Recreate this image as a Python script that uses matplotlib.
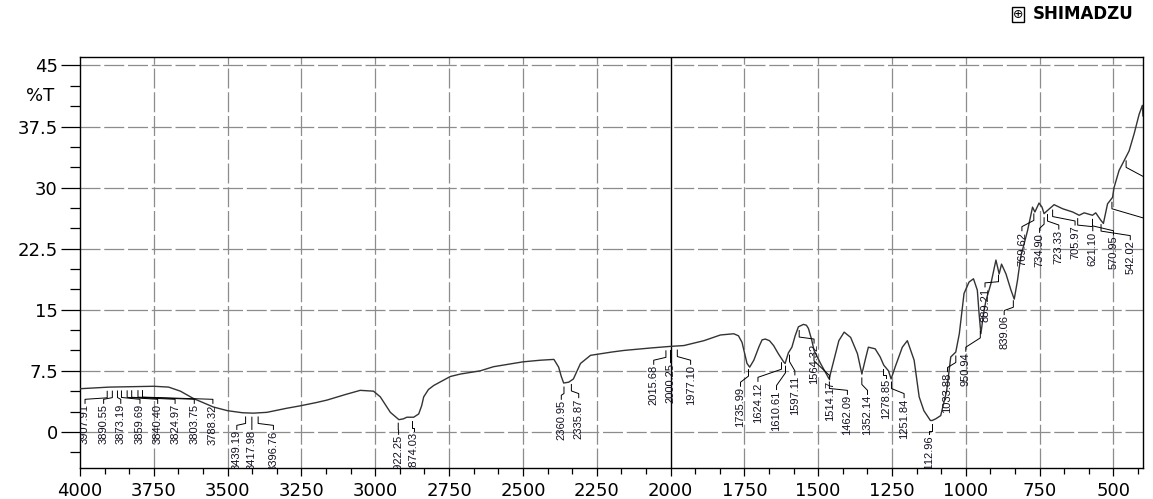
import numpy as np
import matplotlib
matplotlib.use('Agg')
import matplotlib.pyplot as plt
from matplotlib.ticker import FixedLocator, MultipleLocator

plt.rcParams['font.family'] = ['DejaVu Sans']
plt.rcParams['axes.unicode_minus'] = False

# FTIR spectrum (cm-1, %T)
wavenumber = [4000, 3900, 3750, 3700, 3660, 3616, 3548, 3500, 3450, 3413, 3367, 3300,
              3254, 3200, 3164, 3100, 3051, 3006, 2983, 2965, 2949, 2920, 2905, 2893,
              2870, 2853, 2843, 2836, 2820, 2802, 2746, 2712, 2644, 2600, 2500, 2441,
              2395, 2379, 2370, 2362, 2345, 2329, 2315, 2305, 2271, 2200, 2158, 2068,
              2000, 1955, 1887, 1831, 1786, 1770, 1758, 1748, 1741, 1732, 1718, 1700,
              1690, 1679, 1665, 1651, 1635, 1617, 1612, 1601, 1589, 1578, 1567, 1550,
              1540, 1533, 1522, 1514, 1492, 1463, 1447, 1430, 1412, 1390, 1367, 1352,
              1341, 1330, 1307, 1290, 1278, 1262, 1253, 1239, 1215, 1198, 1175, 1158,
              1142, 1120, 1114, 1102, 1085, 1065, 1051, 1034, 1022, 1006, 989, 974,
              961, 955, 949, 940, 932, 915, 898, 887, 879, 864, 847, 836,
              825, 814, 791, 774, 766, 752, 742, 735, 723, 701, 672, 638,
              616, 599, 571, 560, 543, 534, 520, 503, 498, 481, 464, 447,
              430, 413, 402, 400]
transmittance = [5.3, 5.5, 5.6, 5.5, 5.0, 4.1, 3.05, 2.6, 2.35, 2.3, 2.4, 2.9,
                 3.2, 3.6, 3.9, 4.6, 5.1, 5.0, 4.3, 3.3, 2.4, 1.5, 1.6, 1.8,
                 1.8, 2.2, 3.2, 4.3, 5.2, 5.7, 6.8, 7.1, 7.5, 8.0, 8.6, 8.8,
                 8.9, 7.95, 6.8, 6.0, 6.1, 6.5, 7.6, 8.4, 9.4, 9.8, 10.0, 10.3,
                 10.5, 10.6, 11.2, 11.9, 12.05, 11.8, 11.0, 9.5, 8.4, 7.95, 8.8, 10.5,
                 11.3, 11.4, 11.2, 10.6, 9.6, 8.6, 8.4, 9.7, 10.4, 11.8, 12.9, 13.2,
                 13.1, 12.7, 11.3, 10.0, 8.4, 6.5, 8.8, 11.2, 12.25, 11.6, 9.6, 7.1,
                 8.8, 10.4, 10.2, 9.2, 8.2, 7.5, 6.5, 8.0, 10.4, 11.2, 8.8, 4.3,
                 2.6, 1.4, 1.4, 1.6, 2.0, 5.0, 9.2, 9.8, 12.05, 17.0, 18.4, 18.8,
                 17.4, 14.5, 12.05, 14.5, 16.1, 18.2, 21.1, 19.4, 20.6, 19.4, 17.4, 16.3,
                 18.6, 21.5, 24.7, 27.6, 27.0, 28.1, 27.6, 26.8, 27.2, 27.9, 27.4, 27.0,
                 26.6, 26.9, 26.6, 26.9, 26.0, 25.6, 28.0, 28.8, 30.0, 32.1, 33.3, 34.5,
                 36.6, 39.0, 40.1, 38.8]

# peak table
peaks = [3907.91, 3890.55, 3873.19, 3859.69, 3840.40, 3824.97, 3803.75, 3788.32,
         3439.19, 3417.98, 3396.76, 2922.25, 2874.03, 2360.95, 2335.87,
         2015.68, 2000.25, 1977.10, 1735.99, 1624.12, 1610.61, 1597.11, 1564.32,
         1514.17, 1462.09, 1352.14, 1278.85, 1251.84, 1112.96, 1033.88, 950.94,
         889.21, 839.06, 769.62, 734.90, 723.33, 705.97, 621.10, 570.95, 542.02,
         505.15, 457.12]

# where each rotated peak label stands (x in cm-1, top of text in %T)
label_x = [3983, 3920, 3862, 3797, 3737, 3678, 3613, 3550,
           3469, 3418, 3345, 2921, 2870, 2370, 2311,
           2057, 2000, 1932, 1763, 1704, 1641, 1579, 1514,
           1461, 1401, 1333, 1271, 1209, 1124, 1062, 1000,
           935, 870, 810, 750, 685, 630, 570, 500, 443,
           383, 360]
label_top = [3.4, 3.4, 3.4, 3.4, 3.4, 3.4, 3.4, 3.4,
             0.2, 0.2, 0.2, -0.4, 0.0, 3.9, 4.1,
             8.2, 8.4, 8.2, 5.5, 6.1, 5.1, 6.9, 10.8,
             6.3, 4.5, 4.5, 6.5, 4.1, -0.4, 7.3, 9.8,
             17.7, 14.3, 24.6, 24.4, 24.8, 25.3, 24.6, 24.1, 23.5,
             25.5, 30.0]

x_ticks = [4000, 3750, 3500, 3250, 3000, 2750, 2500, 2250, 2000, 1750, 1500, 1250, 1000, 750, 500]
y_ticks = [0, 7.5, 15, 22.5, 30, 37.5, 45]
y_tick_labels = ['0', '7.5', '15', '22.5', '30', '37.5', '45']

line_color = '#333333'
grid_color = '#8c8c8c'
tick_font_size = 13
peak_font_size = 8


def draw_spectrum(output='out.png'):
    fig = plt.figure(figsize=(11.53, 4.99), dpi=100)
    ax = fig.add_axes([0.0694, 0.0627, 0.9219, 0.8225])

    # grid
    for x in x_ticks[1:]:
        if x == 2000:
            ax.axvline(x, color='black', lw=1.0, zorder=1)
        else:
            ax.axvline(x, color=grid_color, lw=0.9, linestyle=(0, (16, 3)), zorder=1)
    for y in y_ticks:
        ax.axhline(y, color=grid_color, lw=0.9, linestyle=(0, (16, 3)), zorder=1)

    # spectrum
    ax.plot(wavenumber, transmittance, color=line_color, lw=1.0, zorder=3)

    # peak labels with leader lines
    wn_asc = np.array(wavenumber[::-1], dtype=float)
    t_asc = np.array(transmittance[::-1], dtype=float)
    for p, lx, top in zip(peaks, label_x, label_top):
        tc = np.interp(p, wn_asc, t_asc)
        y1 = tc - 0.5
        y2 = tc - 1.3
        ytop = min(top + 0.6, y2)
        ax.plot([p, p, lx, lx], [y1, y2, ytop, top + 0.1], color='black', lw=0.7, zorder=4)
        if lx < 400:
            continue  # label falls off the right edge of the frame
        ax.text(lx, top, f'{p:.2f}', rotation=90, ha='center', va='top',
                fontsize=peak_font_size, family=['Liberation Sans', 'DejaVu Sans'],
                color='#111122', clip_on=True, zorder=5)

    # axes
    ax.set_xlim(4000, 400)
    ax.set_ylim(-4.4, 46)
    ax.xaxis.set_major_locator(FixedLocator(x_ticks))
    ax.xaxis.set_minor_locator(MultipleLocator(250 / 3))
    ax.yaxis.set_major_locator(FixedLocator(y_ticks))
    ax.yaxis.set_minor_locator(MultipleLocator(2.5))
    ax.set_yticklabels(y_tick_labels)
    ax.set_xticklabels([str(x) for x in x_ticks])

    ax.tick_params(axis='y', which='major', length=14, width=0.9, pad=2, labelsize=tick_font_size)
    ax.tick_params(axis='y', which='minor', length=7, width=0.9)
    ax.tick_params(axis='x', which='major', length=6, width=0.9, pad=4, labelsize=tick_font_size)
    ax.tick_params(axis='x', which='minor', length=4, width=0.9)
    for axis in ['top', 'bottom', 'left', 'right']:
        ax.spines[axis].set_linewidth(1.0)

    ax.annotate('%T', xy=(-0.038, 41.2), xycoords=('axes fraction', 'data'),
                ha='center', va='center', fontsize=tick_font_size)

    # maker logo
    fig.text(1033 / 1153, 1 - 14 / 499, 'SHIMADZU', fontsize=12, weight='bold',
             ha='left', va='center')
    fig.text(1018 / 1153, 1 - 14 / 499, '\u2295', fontsize=9, ha='center', va='center',
             bbox=dict(boxstyle='square,pad=0.08', fc='white', ec='black', lw=1.0))

    fig.savefig(output, dpi=100)


if __name__ == '__main__':
    draw_spectrum('out.png')
